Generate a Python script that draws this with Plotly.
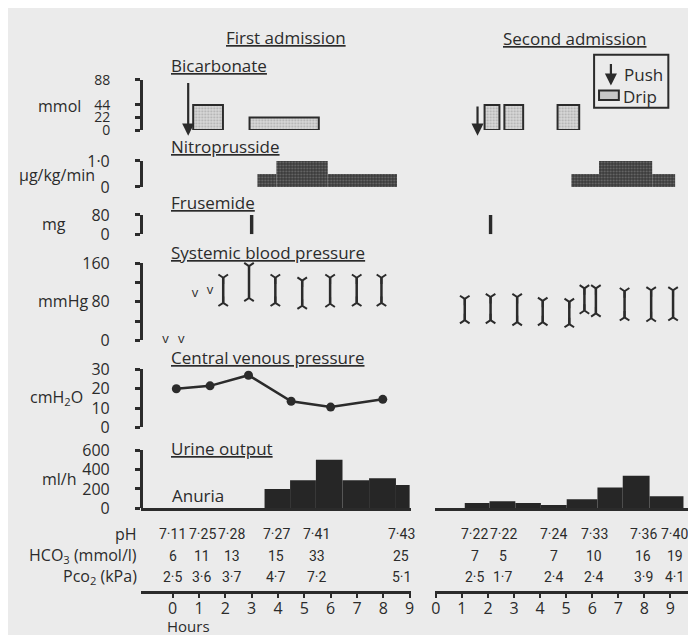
import plotly.graph_objects as go

W, H = 696, 635
FONT = "Open Sans"
INK = "#2b2b2b"
BG = "#ebebeb"

# ---------------- data (hours from start of each admission) ----------------
# Bicarbonate (mmol)
bic1_push_t = [0.59]
bic1_push_dose = [85]
bic1_drip_start = [0.78, 2.92]
bic1_drip_end = [1.91, 5.55]
bic1_drip_dose = [44, 22]
bic2_push_t = [1.6]
bic2_push_dose = [44]
bic2_drip_start = [1.87, 2.63, 4.67]
bic2_drip_end = [2.44, 3.35, 5.50]
bic2_drip_dose = [44, 44, 44]

# Nitroprusside (ug/kg/min)
nit1_start = [3.22, 3.94, 5.89]
nit1_end = [3.94, 5.89, 8.52]
nit1_rate = [0.5, 1.0, 0.5]
nit2_start = [5.20, 6.26, 8.30]
nit2_end = [6.26, 8.30, 9.18]
nit2_rate = [0.5, 1.0, 0.5]

# Frusemide (mg)
fru1_t = [3.0]
fru1_dose = [80]
fru2_t = [2.1]
fru2_dose = [80]

# Systemic blood pressure (mmHg)
bp1_t = [1.92, 2.90, 3.90, 4.92, 5.98, 6.99, 7.93]
bp1_sys = [130, 154, 130, 124, 130, 130, 130]
bp1_dia = [78, 88, 78, 72, 76, 78, 78]
bp2_t = [1.11, 2.10, 3.12, 4.10, 5.12, 5.70, 6.14, 7.24, 8.26, 9.10]
bp2_sys = [86, 90, 90, 82, 80, 108, 108, 102, 104, 104]
bp2_dia = [42, 42, 38, 38, 34, 62, 56, 48, 46, 48]
bp1_v_t = [-0.27, 0.33, 0.85, 1.42]
bp1_v_val = [2, 2, 96, 104]

# Central venous pressure (cmH2O)
cvp1_t = [0.14, 1.42, 2.88, 4.50, 6.00, 7.98]
cvp1 = [20, 21.5, 27, 13.5, 10.5, 14.5]

# Urine output (ml/h)
uri1_edges = [3.49, 4.46, 5.44, 6.45, 7.46, 8.48, 9.0]
uri1 = [200, 290, 500, 290, 310, 240]
uri2_edges = [1.11, 2.06, 3.05, 4.03, 5.02, 6.20, 7.17, 8.20, 9.50]
uri2 = [55, 75, 55, 35, 95, 215, 335, 125]

# Blood gases
gas1_t = [0.0, 1.12, 2.24, 3.94, 5.48, 8.68]
ph1 = ["7·11", "7·25", "7·28", "7·27", "7·41", "7·43"]
hco3_1 = ["6", "11", "13", "15", "33", "25"]
pco2_1 = ["2·5", "3·6", "3·7", "4·7", "7·2", "5·1"]
gas2_t = [1.50, 2.58, 4.53, 6.08, 7.95, 9.17]
ph2 = ["7·22", "7·22", "7·24", "7·33", "7·36", "7·40"]
hco3_2 = ["7", "5", "7", "10", "16", "19"]
pco2_2 = ["2·5", "1·7", "2·4", "2·4", "3·9", "4·1"]

hours = list(range(10))

# ---------------- helpers ----------------
def py(p):
    return 1 - p / H

def px(p):
    return p / W

DRIP = dict(color="#d6d6d6", line=dict(color=INK, width=2),
            pattern=dict(shape=".", bgcolor="#dadada", fgcolor="#7a7a7a", size=3, solidity=0.35))
NITRO = dict(color="#3c3c3c", line=dict(width=0),
             pattern=dict(shape=".", bgcolor="#3a3a3a", fgcolor="#a8a8a8", size=3, solidity=0.3))

fig = go.Figure()

def bars(start, end, val, xa, ya, marker):
    fig.add_trace(go.Bar(x=[(s + e) / 2 for s, e in zip(start, end)],
                         width=[e - s for s, e in zip(start, end)],
                         y=val, base=0, marker=marker, xaxis=xa, yaxis=ya,
                         showlegend=False, hoverinfo="skip"))

# Bicarbonate drips
bars(bic1_drip_start, bic1_drip_end, bic1_drip_dose, "x", "y", DRIP)
bars(bic2_drip_start, bic2_drip_end, bic2_drip_dose, "x2", "y", DRIP)
# Nitroprusside
bars(nit1_start, nit1_end, nit1_rate, "x", "y2", NITRO)
bars(nit2_start, nit2_end, nit2_rate, "x2", "y2", NITRO)
# Frusemide
for t, d, xa in [(fru1_t, fru1_dose, "x"), (fru2_t, fru2_dose, "x2")]:
    fig.add_trace(go.Bar(x=t, y=d, width=[0.13] * len(t), base=0, marker=dict(color=INK, line=dict(width=0)),
                         xaxis=xa, yaxis="y3", showlegend=False, hoverinfo="skip"))

# Blood pressure bars
def bp(t, sys, dia, xa):
    xs, ys = [], []
    for ti, s, d in zip(t, sys, dia):
        xs += [ti, ti, None]
        ys += [d, s, None]
    fig.add_trace(go.Scatter(x=xs, y=ys, mode="lines", line=dict(color=INK, width=2.5),
                             xaxis=xa, yaxis="y4", showlegend=False, hoverinfo="skip"))
    fig.add_trace(go.Scatter(x=t, y=sys, mode="markers", xaxis=xa, yaxis="y4", showlegend=False,
                             marker=dict(symbol="y-down", size=8, line=dict(color=INK, width=2)),
                             cliponaxis=False, hoverinfo="skip"))
    fig.add_trace(go.Scatter(x=t, y=dia, mode="markers", xaxis=xa, yaxis="y4", showlegend=False,
                             marker=dict(symbol="y-up", size=8, line=dict(color=INK, width=2)),
                             cliponaxis=False, hoverinfo="skip"))

bp(bp1_t, bp1_sys, bp1_dia, "x")
bp(bp2_t, bp2_sys, bp2_dia, "x2")
fig.add_trace(go.Scatter(x=bp1_v_t, y=bp1_v_val, mode="text", text=["v"] * len(bp1_v_t),
                         textfont=dict(family=FONT, size=13, color=INK), xaxis="x", yaxis="y4",
                         cliponaxis=False, showlegend=False, hoverinfo="skip"))

# CVP
fig.add_trace(go.Scatter(x=cvp1_t, y=cvp1, mode="lines+markers", xaxis="x", yaxis="y5",
                         line=dict(color=INK, width=2.5), marker=dict(color=INK, size=9),
                         cliponaxis=False, showlegend=False, hoverinfo="skip"))

# Urine output
for edges, vals, xa in [(uri1_edges, uri1, "x3"), (uri2_edges, uri2, "x4")]:
    bars(edges[:-1], edges[1:], vals, xa, "y6", dict(color="#262626", line=dict(width=0)))

# ---------------- axes ----------------
def yax(bot_px, top_px, rng, tickvals, ticktext, size=16):
    return dict(domain=[py(bot_px), py(top_px)], range=rng, anchor="free", position=px(130),
                showline=True, linewidth=2.5, linecolor=INK, ticks="outside", ticklen=5,
                tickwidth=2.5, tickcolor=INK, tickvals=tickvals, ticktext=ticktext,
                showgrid=False, zeroline=False, ticklabelstandoff=22,
                tickfont=dict(family=FONT, size=size, color=INK), fixedrange=True)

def xax(l_px, r_px, rng, anchor, position=None, ticks=True):
    d = dict(domain=[px(l_px), px(r_px)], range=rng, showline=True, linewidth=2.5, linecolor=INK,
             showgrid=False, zeroline=False, fixedrange=True)
    if ticks:
        d.update(anchor="free", position=position, ticks="outside", ticklen=4, tickwidth=2,
                 tickcolor=INK, tickvals=hours, ticktext=[str(h) for h in hours],
                 ticklabelstandoff=-3,
                 tickfont=dict(family=FONT, size=16, color=INK))
    else:
        d.update(anchor=anchor, ticks="", showticklabels=False)
    return d

X1_RANGE = [-1.214, 9.05]
X2_RANGE = [-0.02, 10.02]

fig.update_layout(
    width=W, height=H, autosize=False,
    margin=dict(l=0, r=0, t=0, b=0),
    paper_bgcolor=BG, plot_bgcolor=BG,
    barmode="overlay", showlegend=False,
    font=dict(family=FONT, color=INK),
    xaxis=xax(130, 403, X1_RANGE, None, py(594)),
    xaxis2=xax(427.6, 692, X2_RANGE, None, py(594)),
    xaxis3=xax(130, 403, X1_RANGE, "y6", ticks=False),
    xaxis4=xax(427.6, 692, X2_RANGE, "y6", ticks=False),
    yaxis=yax(115, 63, [0, 88], [0, 22, 44, 88], ["0", "22", "44", "88"], size=14),
    yaxis2=yax(174, 147, [0, 1.0], [0, 1.0], ["0", "1·0"]),
    yaxis3=yax(223, 203, [0, 80], [0, 80], ["0", "80"]),
    yaxis4=yax(333, 253, [0, 160], [0, 40, 80, 120, 160], ["0", " ", "80", " ", "160"]),
    yaxis5=yax(423, 363, [0, 30], [0, 10, 20, 30], ["0", "10", "20", "30"]),
    yaxis6=yax(507, 446.5, [0, 600], [0, 200, 400, 600], ["0", "200", "400", "600"]),
)

ann = []

def text(s, x, y, size=16, anchor="left", under=False, xref="paper", family=FONT):
    f = dict(family=family, size=size, color=INK)
    if under:
        f["lineposition"] = "under"
    ann.append(dict(text=s, x=x, y=y, xref=xref, yref="paper", xanchor=anchor, yanchor="middle",
                    showarrow=False, font=f))

# headings
text("First admission", px(214), py(19), size=17, under=True)
text("Second admission", px(494), py(20), size=17, under=True)
for s, yy in [("Bicarbonate", 48), ("Nitroprusside", 132), ("Frusemide", 190),
              ("Systemic blood pressure", 242), ("Central venous pressure", 351), ("Urine output", 445)]:
    text(s, px(159), py(yy), size=17, under=True)

# units
for s, xx, yy in [("mmol", 48, 90), ("µg/kg/min", 45, 162), ("mg", 42, 212), ("mmHg", 52, 292),
                  ("cmH<sub>2</sub>O", 45, 392), ("ml/h", 48, 477)]:
    text(s, px(xx), py(yy), size=16, anchor="center")
text("Anuria", px(188), py(494), size=17, anchor="center")

# gas table
for s, yy in [("pH", 533), ("HCO<sub>3</sub> (mmol/l)", 556), ("Pco<sub>2</sub> (kPa)", 578)]:
    text(s, px(128), py(yy), size=16, anchor="right")
for cols, xr, rows in [(gas1_t, "x", [ph1, hco3_1, pco2_1]), (gas2_t, "x2", [ph2, hco3_2, pco2_2])]:
    for vals, yy in zip(rows, [533, 556, 578]):
        for t, v in zip(cols, vals):
            text(v, t, py(yy), size=14, anchor="center", xref=xr, family="Roboto")
text("Hours", px(155), py(629), size=15)

# push arrows (bicarbonate)
for ts, ds, xr in [(bic1_push_t, bic1_push_dose, "x"), (bic2_push_t, bic2_push_dose, "x2")]:
    for t, d in zip(ts, ds):
        ann.append(dict(x=t, y=-10, xref=xr, yref="y", ax=t, ay=d, axref=xr, ayref="y",
                        text="", showarrow=True, arrowhead=2, arrowsize=1.1, arrowwidth=2.2,
                        arrowcolor=INK))

# legend
ann.append(dict(x=px(605), y=py(69), xref="paper", yref="paper", ax=0, ay=-23, text="",
                showarrow=True, arrowhead=2, arrowsize=1.1, arrowwidth=2.2, arrowcolor=INK))
text("Push", px(616), py(58), size=17)
text("Drip", px(615), py(80), size=17)

fig.update_layout(annotations=ann, shapes=[
    dict(type="rect", xref="paper", yref="paper", x0=px(588), x1=px(663), y0=py(92), y1=py(37),
         line=dict(color=INK, width=2)),
    dict(type="rect", xref="paper", yref="paper", x0=px(593), x1=px(613), y0=py(84), y1=py(74),
         line=dict(color=INK, width=2), fillcolor="#c8c8c8"),
])

fig.write_html("out.html")
